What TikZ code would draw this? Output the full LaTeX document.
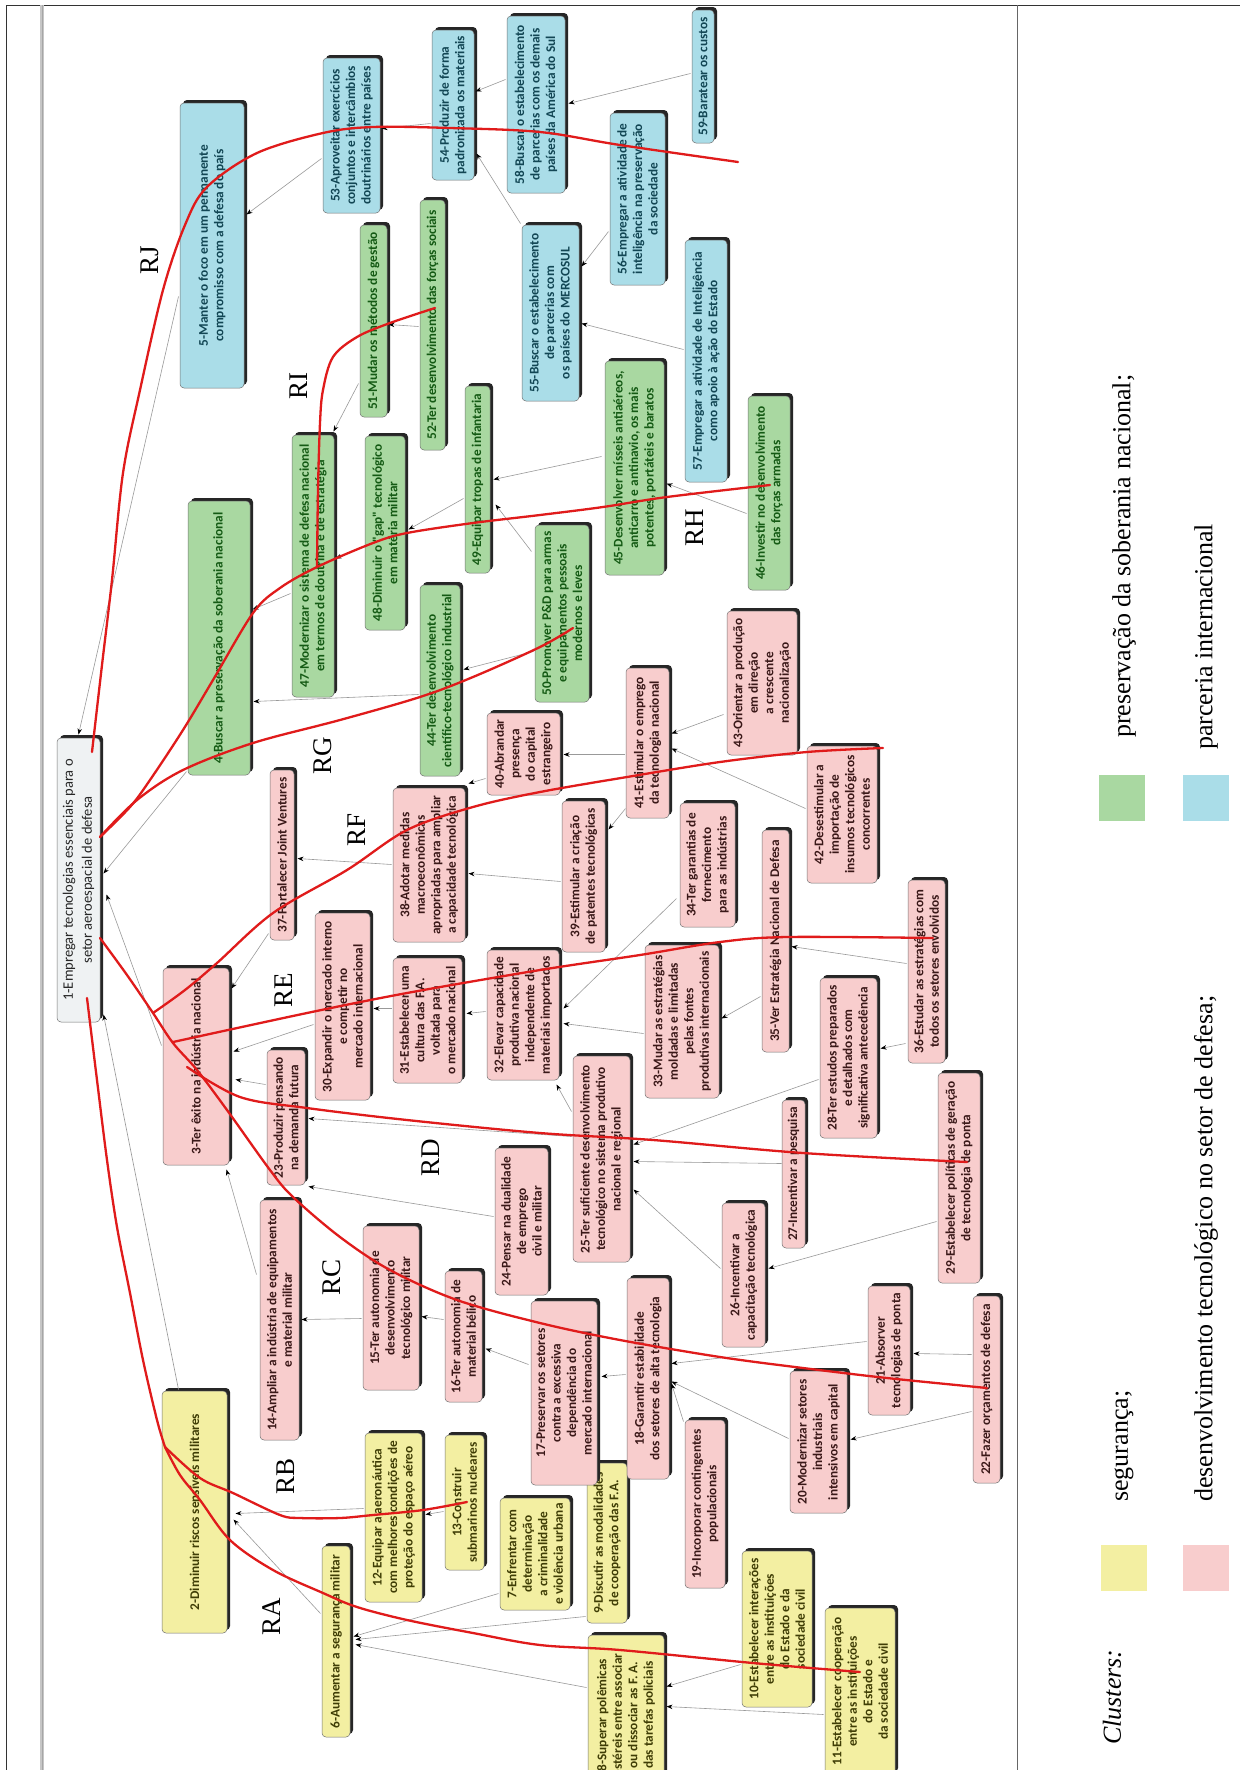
\documentclass[tikz,border=0pt]{standalone}
\usepackage{fontspec}
\setmainfont{Liberation Serif}
\newfontfamily\cfont{Carlito}
\usetikzlibrary{calc,arrows.meta}
\definecolor{yelc}{HTML}{F3EFA2}
\definecolor{pnkc}{HTML}{F8CDCD}
\definecolor{grnc}{HTML}{A9D8A1}
\definecolor{bluc}{HTML}{AADDE8}
\definecolor{whtc}{HTML}{EFF2F3}
\definecolor{yelt}{HTML}{3F3D05}
\definecolor{pnkt}{HTML}{3A1818}
\definecolor{grnt}{HTML}{145A14}
\definecolor{blut}{HTML}{124654}
\definecolor{redl}{HTML}{E01B1B}
\newcommand\nf{\cfont\bfseries\fontsize{13.3}{15.5}\selectfont}
\newcommand\nfw{\cfont\fontsize{14.5}{19}\selectfont}
% #1 name, #2 style, #3 cx, #4 cy, #5 x-extent, #6 y-extent, #7 text
\newcommand\mkn[7]{%
  \fill[black!85, rounded corners=4pt] ({#3-(#5)/2+3},{#4-(#6)/2}) rectangle ({#3+(#5)/2},{#4+(#6)/2-3});
  \node[#2, minimum width=#6pt-3pt, minimum height=#5pt-3pt] (#1) at ({#3-1.5},{#4+1.5}) {#7};
}
\tikzset{
  cbox/.style={rotate=90, rounded corners=4pt, draw=black!55, line width=0.5pt, align=center, inner sep=1.5pt, font=\nf},
  yel/.style={cbox, fill=yelc, text=yelt},
  pnk/.style={cbox, fill=pnkc, text=pnkt},
  grn/.style={cbox, fill=grnc, text=grnt},
  blu/.style={cbox, fill=bluc, text=blut},
  wht/.style={cbox, fill=whtc, text=black!85, font=\nfw},
  edge/.style={draw=gray!80, line width=0.6pt, -{Stealth[length=6pt,width=4.5pt,color=black]}},
  redc/.style={draw=redl, line width=2.3pt, line cap=round, line join=round},
  rlab/.style={rotate=90, inner sep=0pt, font=\fontsize{27}{30}\selectfont},
  leg/.style={rotate=90, anchor=west, inner sep=0pt, font=\fontsize{26}{30}\selectfont},
  legsq/.style={minimum size=46pt, inner sep=0pt, draw=none}
}
\begin{document}
\begin{tikzpicture}[x=1pt,y=-1pt]
\useasboundingbox (0,0) rectangle (1240,1770);
\fill[white] (0,0) rectangle (1240,1770);
\clip (0,0) rectangle (1240,1770);
% frame
\draw[black!80, line width=1pt] (6,5) -- (1240,5);
\draw[black!80, line width=1pt] (6,5) -- (6,1770);
\draw[gray!45, line width=4pt] (42,5) -- (42,1770);
\draw[gray!70, line width=1pt] (42,5) -- (42,1770);
\draw[black!60, line width=1pt] (1017,5) -- (1017,1770);
% nodes
\mkn{n1}{wht}{80}{878.5}{46}{287}{1-Empregar tecnologias essenciais para o\\setor aeroespacial de defesa}
\mkn{n2}{yel}{196}{1510.5}{68}{245}{2-Diminuir riscos sensíveis militares}
\mkn{n3}{pnk}{197.5}{1065}{69}{200}{3-Ter êxito na indústria nacional}
\mkn{n4}{grn}{220.5}{636.5}{65}{277}{4-Buscar a preservação da soberania nacional}
\mkn{n5}{blu}{213.5}{244}{67}{288}{5-Manter o foco em um permanente\\compromisso com a defesa do país}
\mkn{n6}{yel}{337.5}{1640}{31}{194}{6-Aumentar a segurança militar}
\mkn{n7}{yel}{536.5}{1552.5}{73}{115}{7-Enfrentar com\\determinação\\a criminalidade\\e violência urbana}
\mkn{n8}{yel}{627.5}{1713.5}{79}{163}{8-Superar polêmicas\\estéreis entre associar\\ou dissociar as F. A.\\das tarefas policiais}
\mkn{n9}{yel}{608.5}{1541.5}{43}{163}{9-Discutir as modalidades\\de cooperação das F.A.}
\mkn{n10}{yel}{778.5}{1627.5}{73}{159}{10-Estabelecer interações\\entre as instituições\\do Estado e da\\sociedade civil}
\mkn{n11}{yel}{861.5}{1690}{73}{170}{11-Estabelecer cooperação\\entre as instituições\\do Estado e\\da sociedade civil}
\mkn{n12}{yel}{395}{1516}{60}{172}{12-Equipar a aeronáutica\\com melhores condições de\\proteção do espaço aéreo}
\mkn{n13}{yel}{466}{1501}{42}{138}{13-Construir\\submarinos nucleares}
\mkn{n14}{pnk}{281}{1318.5}{42}{243}{14-Ampliar a indústria de equipamentos\\e material militar}
\mkn{n15}{pnk}{392.5}{1306.5}{59}{167}{15-Ter autonomia de\\desenvolvimento\\tecnológico militar}
\mkn{n16}{pnk}{465}{1335}{40}{134}{16-Ter autonomia de\\material bélico}
\mkn{n17}{pnk}{565.5}{1391.5}{69}{187}{17-Preservar os setores\\contra a excessiva\\dependência do\\mercado internacional}
\mkn{n18}{pnk}{649.5}{1377}{45}{204}{18-Garantir estabilidade\\dos setores de alta tecnologia}
\mkn{n19}{pnk}{706.5}{1502.5}{43}{171}{19-Incorporar contingentes\\populacionais}
\mkn{n20}{pnk}{820}{1440.5}{60}{145}{20-Modernizar setores\\industriais\\intensivos em capital}
\mkn{n21}{pnk}{890.5}{1349}{45}{132}{21-Absorver\\tecnologias de ponta}
\mkn{n22}{pnk}{988}{1388}{30}{190}{22-Fazer orçamentos de defesa}
\mkn{n23}{pnk}{287.5}{1116}{41}{138}{23-Produzir pensando\\na demanda futura}
\mkn{n24}{pnk}{523}{1220}{56}{150}{24-Pensar na dualidade\\de emprego\\civil e militar}
\mkn{n25}{pnk}{603}{1157.5}{60}{209}{25-Ter suficiente desenvolvimento\\tecnológico no sistema produtivo\\nacional e regional}
\mkn{n26}{pnk}{745}{1273.5}{46}{147}{26-Incentivar a\\capacitação tecnológica}
\mkn{n27}{pnk}{795}{1172.5}{26}{151}{27-Incentivar a pesquisa}
\mkn{n28}{pnk}{850}{1056.5}{60}{163}{28-Ter estudos preparados\\e detalhados com\\significativa antecedência}
\mkn{n29}{pnk}{960.5}{1176.5}{45}{213}{29-Estabelecer políticas de geração\\de tecnologia de ponta}
\mkn{n30}{pnk}{344}{1005}{58}{190}{30-Expandir o mercado interno\\e competir no\\mercado internacional}
\mkn{n31}{pnk}{429}{1019}{72}{128}{31-Estabelecer uma\\cultura das F.A.\\voltada para\\o mercado nacional}
\mkn{n32}{pnk}{524.5}{1013.5}{75}{133}{32-Elevar capacidade\\produtiva nacional\\independente de\\materiais importados}
\mkn{n33}{pnk}{683.5}{1020}{77}{156}{33-Mudar as estratégias\\moldadas e limitadas\\pelas fontes\\produtivas internacionais}
\mkn{n34}{pnk}{709}{863.5}{58}{127}{34-Ter garantias de\\fornecimento\\para as indústrias}
\mkn{n35}{pnk}{777}{939.5}{30}{225}{35-Ver Estratégia Nacional de Defesa}
\mkn{n36}{pnk}{928}{970}{40}{186}{36-Estudar as estratégias com\\todos os setores envolvidos}
\mkn{n37}{pnk}{283.5}{853.5}{27}{173}{37-Fortalecer Joint Ventures}
\mkn{n38}{pnk}{430.5}{863.5}{75}{157}{38-Adotar medidas\\macroeconômicas\\apropriadas para ampliar\\a capacidade tecnológica}
\mkn{n39}{pnk}{585}{875}{46}{154}{39-Estimular a criação\\de patentes tecnológicas}
\mkn{n40}{pnk}{525}{752.5}{76}{85}{40-Abrandar\\presença\\do capital\\estrangeiro}
\mkn{n41}{pnk}{649}{741.5}{46}{153}{41-Estimular o emprego\\da tecnologia nacional}
\mkn{n42}{pnk}{843.5}{813}{73}{140}{42-Desestimular a\\importação de\\insumos tecnológicos\\concorrentes}
\mkn{n43}{pnk}{763.5}{681.5}{73}{147}{43-Orientar a produção\\em direção\\a crescente\\nacionalização}
\mkn{n44}{grn}{441.5}{679}{43}{194}{44-Ter desenvolvimento\\científico-tecnológico industrial}
\mkn{n45}{grn}{636}{466.5}{62}{217}{45-Desenvolver mísseis antiaéreos,\\anticarro e antinavio, os mais\\potentes, portáteis e baratos}
\mkn{n46}{grn}{770.5}{491.5}{45}{197}{46-Investir no desenvolvimento\\das forças armadas}
\mkn{n47}{grn}{314.5}{564.5}{45}{265}{47-Modernizar o sistema de defesa nacional\\em termos de doutrina e de estratégia}
\mkn{n48}{grn}{386.5}{531.5}{43}{197}{48-Diminuir o "gap" tecnológico\\em matéria militar}
\mkn{n49}{grn}{479}{478}{28}{190}{49-Equipar tropas de infantaria}
\mkn{n50}{grn}{563.5}{612}{57}{180}{50-Promover P\&D para armas\\e equipamentos pessoais\\modernos e leves}
\mkn{n51}{grn}{375}{319.5}{30}{195}{51-Mudar os métodos de gestão}
\mkn{n52}{grn}{434}{323.5}{28}{253}{52-Ter desenvolvimento das forças sociais}
\mkn{n53}{blu}{353}{134}{60}{158}{53-Aproveitar exercícios\\conjuntos e intercâmbios\\doutrinários entre países}
\mkn{n54}{blu}{454.5}{103.5}{45}{153}{54-Produzir de forma\\padronizada os materiais}
\mkn{n55}{blu}{552}{311.5}{60}{179}{55-Buscar o estabelecimento\\de parcerias com\\os países do MERCOSUL}
\mkn{n56}{blu}{639}{197.5}{58}{175}{56-Empregar a atividade de\\inteligência na preservação\\da sociedade}
\mkn{n57}{blu}{707.5}{359.5}{45}{245}{57-Empregar a atividade de Inteligência\\como apoio à ação do Estado}
\mkn{n58}{blu}{537.5}{103}{61}{180}{58-Buscar o estabelecimento\\de parcerias com os demais\\países da América do Sul}
\mkn{n59}{blu}{704.5}{75}{25}{136}{59-Baratear os custos}
% gray connectors
\draw[edge] ($(n53)+(-30,23)$) -- ($(n5)+(34.5,-31)$);
\draw[edge] ($(n58)+(-30.5,-25)$) -- ($(n54)+(22.5,-13.5)$);
\draw[edge] ($(n55)+(-30,-89.5)$) -- ($(n54)+(23.5,48.5)$);
\draw[edge] ($(n54)+(-22.5,18.5)$) -- ($(n53)+(30,-7)$);
\draw[edge] ($(n59)+(-12.5,-3)$) -- ($(n58)+(32.5,-1)$);
\draw[edge] ($(n56)+(-29,32.5)$) -- ($(n55)+(31,-46.5)$);
\draw[edge] ($(n57)+(-22.5,-11.5)$) -- ($(n55)+(31,10.5)$);
\draw[edge] ($(n46)+(-22.5,20.5)$) -- ($(n45)+(32,15.5)$);
\draw[edge] ($(n45)+(-33,-11.5)$) -- ($(n49)+(16,0)$);
\draw[edge] ($(n50)+(-30.5,-62)$) -- ($(n49)+(18,25)$);
\draw[edge] ($(n51)+(-15,62.5)$) -- ($(n47)+(20.5,-134.5)$);
\draw[edge] ($(n52)+(-14,1.5)$) -- ($(n51)+(15,3.5)$);
\draw[edge] ($(n49)+(-14,19)$) -- ($(n48)+(23.5,-3.5)$);
\draw[edge] ($(n48)+(-21.5,13.5)$) -- ($(n47)+(22.5,-7.5)$);
\draw[edge] ($(n5)+(-33.5,51)$) -- ($(n1)+(0,-145.5)$);
\draw[edge] ($(n47)+(-22.5,27.5)$) -- ($(n4)+(33.5,-28.5)$);
\draw[edge] ($(n44)+(-21.5,14)$) -- ($(n4)+(34.5,63.5)$);
\draw[edge] ($(n50)+(-28.5,38)$) -- ($(n44)+(23.5,-11)$);
\draw[edge] ($(n4)+(-32.5,133.5)$) -- ($(n1)+(25,-6.5)$);
\draw[edge] ($(n40)+(-38,24.5)$) -- ($(n38)+(39.5,-81.5)$);
\draw[edge] ($(n38)+(-37.5,-0.5)$) -- ($(n37)+(15.5,3.5)$);
\draw[edge] ($(n39)+(-23,5)$) -- ($(n38)+(39.5,8.5)$);
\draw[edge] ($(n43)+(-38.5,31.5)$) -- ($(n41)+(24,-9.5)$);
\draw[edge] ($(n42)+(-36.5,-6)$) -- ($(n41)+(24,5.5)$);
\draw[edge] ($(n41)+(-23,11.5)$) -- ($(n40)+(40,0.5)$);
\draw[edge] ($(n41)+(-22,65.5)$) -- ($(n39)+(25,-47)$);
\draw[edge] ($(n37)+(-13.5,78.5)$) -- ($(n3)+(35.5,-78)$);
\draw[edge] ($(n30)+(-29,18)$) -- ($(n3)+(37.5,-15)$);
\draw[edge] ($(n23)+(-20.5,-33)$) -- ($(n3)+(39.5,13)$);
\draw[edge] ($(n31)+(-36,-12)$) -- ($(n30)+(31,2)$);
\draw[edge] ($(n32)+(-37.5,-3.5)$) -- ($(n31)+(39,-7)$);
\draw[edge] ($(n3)+(-34.5,-21)$) -- ($(n1)+(28,14.5)$);
\draw[edge] ($(n2)+(-16,-122.5)$) -- ($(n1)+(25,134.5)$);
\draw[edge] ($(n24)+(-28,-5)$) -- ($(n23)+(22.5,69)$);
\draw[edge] ($(n25)+(-30,-22.5)$) -- ($(n23)+(22.5,1)$);
\draw[edge] ($(n14)+(-23,-45.5)$) -- ($(n3)+(30.5,103)$);
\draw[edge] ($(n15)+(-29.5,10.5)$) -- ($(n14)+(22,-0.5)$);
\draw[edge] ($(n16)+(-20,-17)$) -- ($(n15)+(30.5,8.5)$);
\draw[edge] ($(n17)+(-35.5,-28.5)$) -- ($(n16)+(22,12)$);
\draw[edge] ($(n34)+(-31,33.5)$) -- ($(n32)+(40.5,-6.5)$);
\draw[edge] ($(n33)+(-38.5,12)$) -- ($(n32)+(40.5,8.5)$);
\draw[edge] ($(n35)+(-15,55.5)$) -- ($(n33)+(39.5,-3)$);
\draw[edge] ($(n36)+(-20,-8)$) -- ($(n35)+(16,5.5)$);
\draw[edge] ($(n36)+(-21,72)$) -- ($(n28)+(32,-9.5)$);
\draw[edge] ($(n25)+(-30,-47.5)$) -- ($(n32)+(33.5,69.5)$);
\draw[edge] ($(n28)+(-30,21.5)$) -- ($(n25)+(32,-14.5)$);
\draw[edge] ($(n27)+(-12,-10.5)$) -- ($(n25)+(32,2.5)$);
\draw[edge] ($(n26)+(-23,-6.5)$) -- ($(n25)+(32,30.5)$);
\draw[edge] ($(n29)+(-22.5,43.5)$) -- ($(n26)+(25,-6.5)$);
\draw[edge] ($(n18)+(-22.5,-4)$) -- ($(n17)+(37.5,-16.5)$);
\draw[edge] ($(n21)+(-22.5,-9)$) -- ($(n18)+(23.5,-15)$);
\draw[edge] ($(n22)+(-15,-35)$) -- ($(n21)+(24.5,3)$);
\draw[edge] ($(n22)+(-15,22)$) -- ($(n20)+(32,-2.5)$);
\draw[edge] ($(n20)+(-30,-3.5)$) -- ($(n18)+(23.5,3)$);
\draw[edge] ($(n19)+(-21.5,-82.5)$) -- ($(n18)+(23.5,5)$);
\draw[edge] ($(n12)+(-30,-9)$) -- ($(n2)+(41,1.5)$);
\draw[edge] ($(n13)+(-21,9)$) -- ($(n12)+(32,-3)$);
\draw[edge] ($(n6)+(-15.5,-28)$) -- ($(n2)+(39,7.5)$);
\draw[edge] ($(n7)+(-36.5,39.5)$) -- ($(n6)+(17.5,-5)$);
\draw[edge] ($(n9)+(-21.5,73.5)$) -- ($(n6)+(19.5,-2)$);
\draw[edge] ($(n8)+(-39.5,-27.5)$) -- ($(n6)+(19.5,3)$);
\draw[edge] ($(n10)+(-36.5,35.5)$) -- ($(n8)+(40.5,-28.5)$);
\draw[edge] ($(n11)+(-36.5,23)$) -- ($(n8)+(40.5,-8.5)$);
% red hand-drawn curves
\draw[redc] plot[smooth, tension=0.55] coordinates {(92,752) (102,665) (112,580) (123,473) (140,390) (163,290) (185,225) (207,187) (257,153) (323,133) (373,127) (450,128) (540,132) (620,145) (738,162)};
\draw[redc] plot[smooth, tension=0.55] coordinates {(100,837) (130,807) (150,780) (183,730) (213,680) (253,613) (280,588) (317,567) (373,543) (407,533) (473,523) (540,515) (603,507) (667,497) (770,485)};
\draw[redc] plot[smooth, tension=0.55] coordinates {(317,567) (318,490) (320,423) (323,390) (333,357) (357,337) (390,323) (435,308)};
\draw[redc] plot[smooth, tension=0.55] coordinates {(100,837) (137,800) (183,770) (253,743) (340,720) (420,697) (473,677) (540,647) (573,628)};
\draw[redc] plot[smooth, tension=0.55] coordinates {(153,1013) (185,990) (217,963) (273,913) (347,870) (407,830) (473,807) (540,792) (627,777) (720,762) (807,752) (883,748)};
\draw[redc] plot[smooth, tension=0.55] coordinates {(173,1042) (307,1013) (407,993) (540,970) (640,955) (720,942) (787,937) (933,938)};
\draw[redc] plot[smooth, tension=0.55] coordinates {(187,1067) (240,1097) (307,1108) (407,1120) (540,1133) (653,1140) (803,1153) (967,1162)};
\draw[redc] plot[smooth, tension=0.55] coordinates {(100,938) (127,975) (153,1013) (173,1043) (197,1070) (227,1110) (270,1170) (293,1197) (340,1237) (390,1270) (457,1300) (540,1323) (620,1340) (720,1357) (803,1368) (887,1378) (987,1388)};
\draw[redc] plot[smooth, tension=0.55] coordinates {(87,998) (97,1080) (107,1160) (117,1227) (130,1293) (143,1360) (157,1420) (165,1447)};
\draw[redc] plot[smooth, tension=0.55] coordinates {(165,1447) (200,1478) (233,1493) (280,1515) (300,1518) (340,1518) (373,1515) (423,1510) (467,1502)};
\draw[redc] plot[smooth, tension=0.55] coordinates {(165,1447) (180,1475) (200,1500) (230,1540) (273,1570) (323,1593) (357,1607) (407,1620) (473,1633) (540,1645) (620,1650) (753,1663) (860,1672)};
% region labels
\node[rlab] (lRJ) at (150,260) {RJ};
\node[rlab] (lRI) at (299,386) {RI};
\node[rlab] (lRH) at (695,528) {RH};
\node[rlab] (lRG) at (323,756) {RG};
\node[rlab] (lRF) at (357,830) {RF};
\node[rlab] (lRE) at (284,990) {RE};
\node[rlab] (lRD) at (431,1158) {RD};
\node[rlab] (lRC) at (332,1277) {RC};
\node[rlab] (lRB) at (286,1476) {RB};
\node[rlab] (lRA) at (272,1617) {RA};
% legend
\node[leg, font=\fontsize{26}{30}\selectfont\itshape] (lcl) at (1112,1745) {Clusters:};
\node[legsq, fill=yelc] (ky) at (1123.5,1568) {};
\node[legsq, fill=pnkc] (kp) at (1205.5,1568) {};
\node[legsq, fill=grnc] (kg) at (1122,798) {};
\node[legsq, fill=bluc] (kb) at (1205.5,798) {};
\node[leg] (lsg) at (1124,1502) {segurança;};
\node[leg] (ldv) at (1206,1502) {desenvolvimento tecnológico no setor de defesa;};
\node[leg] (lps) at (1124,738) {preservação da soberania nacional;};
\node[leg] (lpi) at (1206,750) {parceria internacional};
\end{tikzpicture}
\end{document}
